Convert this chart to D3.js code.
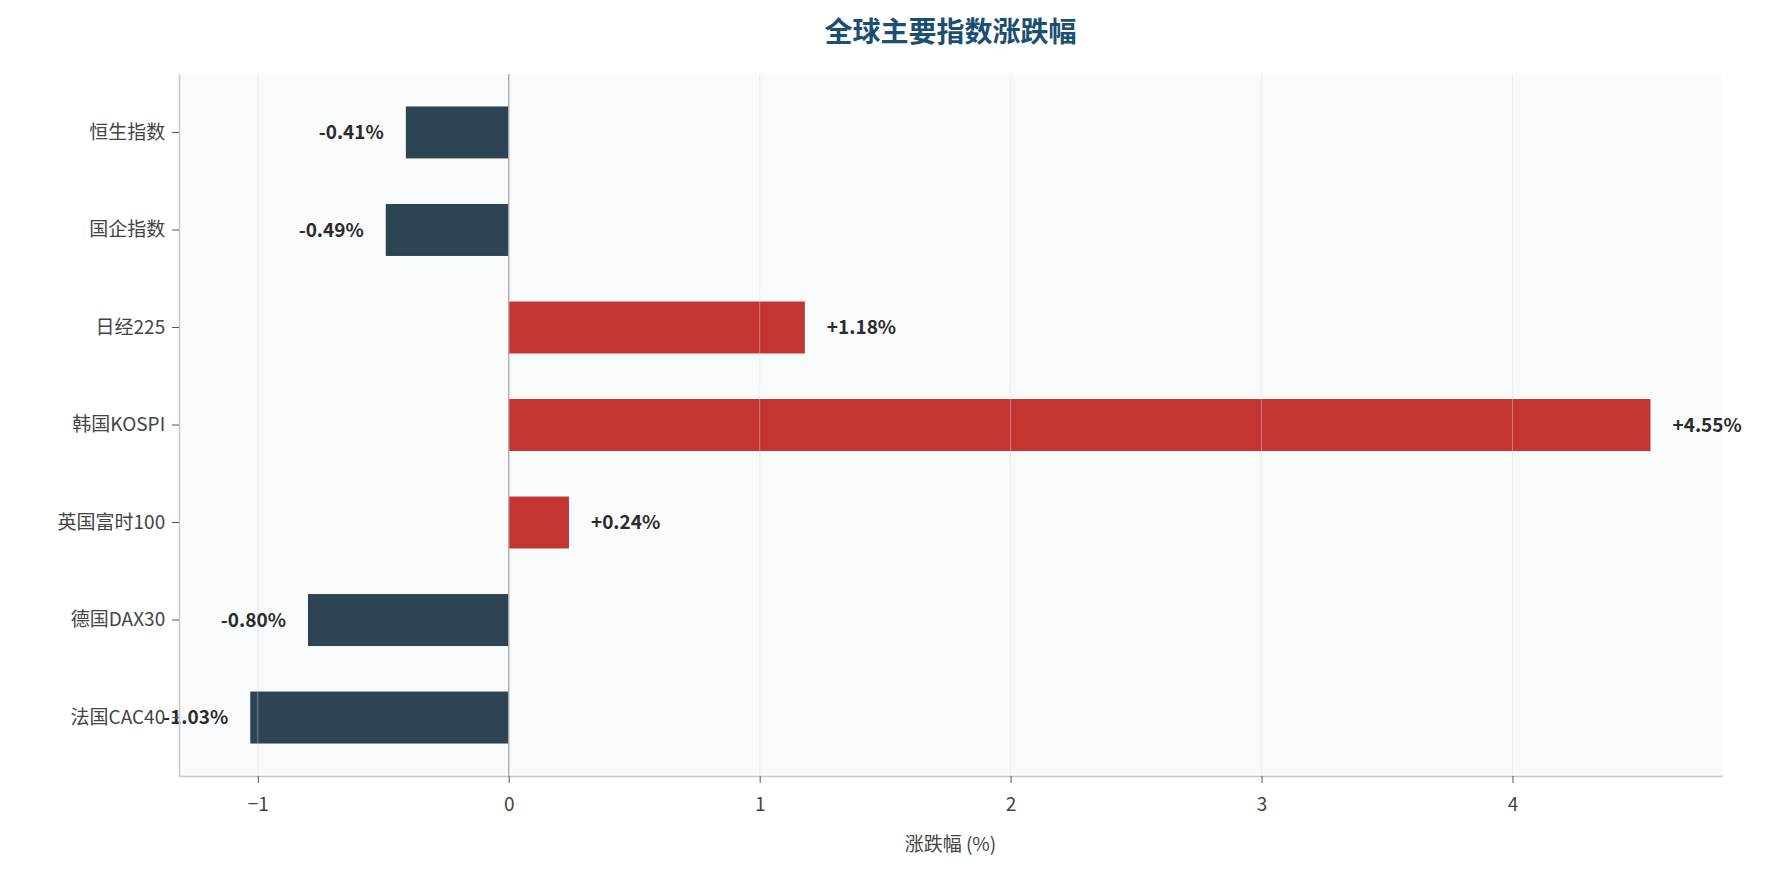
<!DOCTYPE html><html><head><meta charset="utf-8"><script src="https://cdn.jsdelivr.net/npm/d3@7"></script>
<style>body{margin:0;background:#fff}text{font-family:"Noto Sans CJK SC","Noto Sans",sans-serif}</style></head><body>
<svg id="c" width="1777" height="874"></svg>
<script>
const categories=["恒生指数","国企指数","日经225","韩国KOSPI","英国富时100","德国DAX30","法国CAC40"];
const values=[-0.41,-0.49,1.18,4.55,0.24,-0.80,-1.03];
const xTicks=[-1,0,1,2,3,4];
const title="全球主要指数涨跌幅", xLabel="涨跌幅 (%)";
const svg=d3.select("#c");
const L=179,R=1722,T=74,B=776;
const x=d3.scaleLinear().domain([-1.314,4.835]).range([L,R]);
const y=d3.scaleBand().domain(categories).range([T,B]).paddingInner(0.467).paddingOuter(0.333);
svg.append("rect").attr("x",L).attr("y",T).attr("width",R-L).attr("height",B-T).attr("fill","#f8fafc");
svg.selectAll(".g").data(xTicks).join("line").attr("x1",d=>x(d)).attr("x2",d=>x(d)).attr("y1",T).attr("y2",B).attr("stroke","#e3e6ea").attr("stroke-width",1);
svg.selectAll(".bar").data(values).join("rect").attr("x",d=>Math.min(x(0),x(d))).attr("width",d=>Math.abs(x(d)-x(0)))
 .attr("y",(d,i)=>y(categories[i])).attr("height",y.bandwidth()).attr("fill",d=>d>=0?"#c23531":"#2e4453");
svg.selectAll(".g2").data(xTicks).join("line").attr("x1",d=>x(d)).attr("x2",d=>x(d)).attr("y1",T).attr("y2",B).attr("stroke","#ffffff").attr("stroke-opacity",0.35);
svg.append("line").attr("x1",x(0)).attr("x2",x(0)).attr("y1",T).attr("y2",B).attr("stroke","#aaa").attr("stroke-width",1.3);
svg.selectAll(".lbl").data(values).join("text").attr("x",d=>d>=0?x(d)+22:x(d)-22).attr("y",(d,i)=>y(categories[i])+y.bandwidth()/2)
 .attr("dy","0.35em").attr("text-anchor",d=>d>=0?"start":"end").attr("font-size",19).attr("font-weight","bold").attr("fill","#2b2b2b")
 .text(d=>(d>=0?"+":"")+d.toFixed(2)+"%");
const xa=svg.append("g").attr("transform",`translate(0,${B})`).call(d3.axisBottom(x).tickValues(xTicks).tickSize(7).tickSizeOuter(0).tickFormat(d3.format("d")));
const ya=svg.append("g").attr("transform",`translate(${L},0)`).call(d3.axisLeft(y).tickSize(7).tickSizeOuter(0));
[xa,ya].forEach(a=>{a.select(".domain").attr("stroke","#c8c8c8").attr("stroke-width",1.5);a.selectAll(".tick line").attr("stroke","#555");a.selectAll("text").attr("font-size",19).attr("fill","#444");});
xa.selectAll("text").attr("dy","1.3em");
ya.selectAll("text").attr("dx","-0.2em");
svg.append("text").attr("x",(L+R)/2).attr("y",42).attr("text-anchor","middle").attr("font-size",28).attr("font-weight","bold").attr("fill","#1b4f72").text(title);
svg.append("text").attr("x",(L+R)/2).attr("y",851).attr("text-anchor","middle").attr("font-size",19).attr("fill","#444").text(xLabel);
</script></body></html>
